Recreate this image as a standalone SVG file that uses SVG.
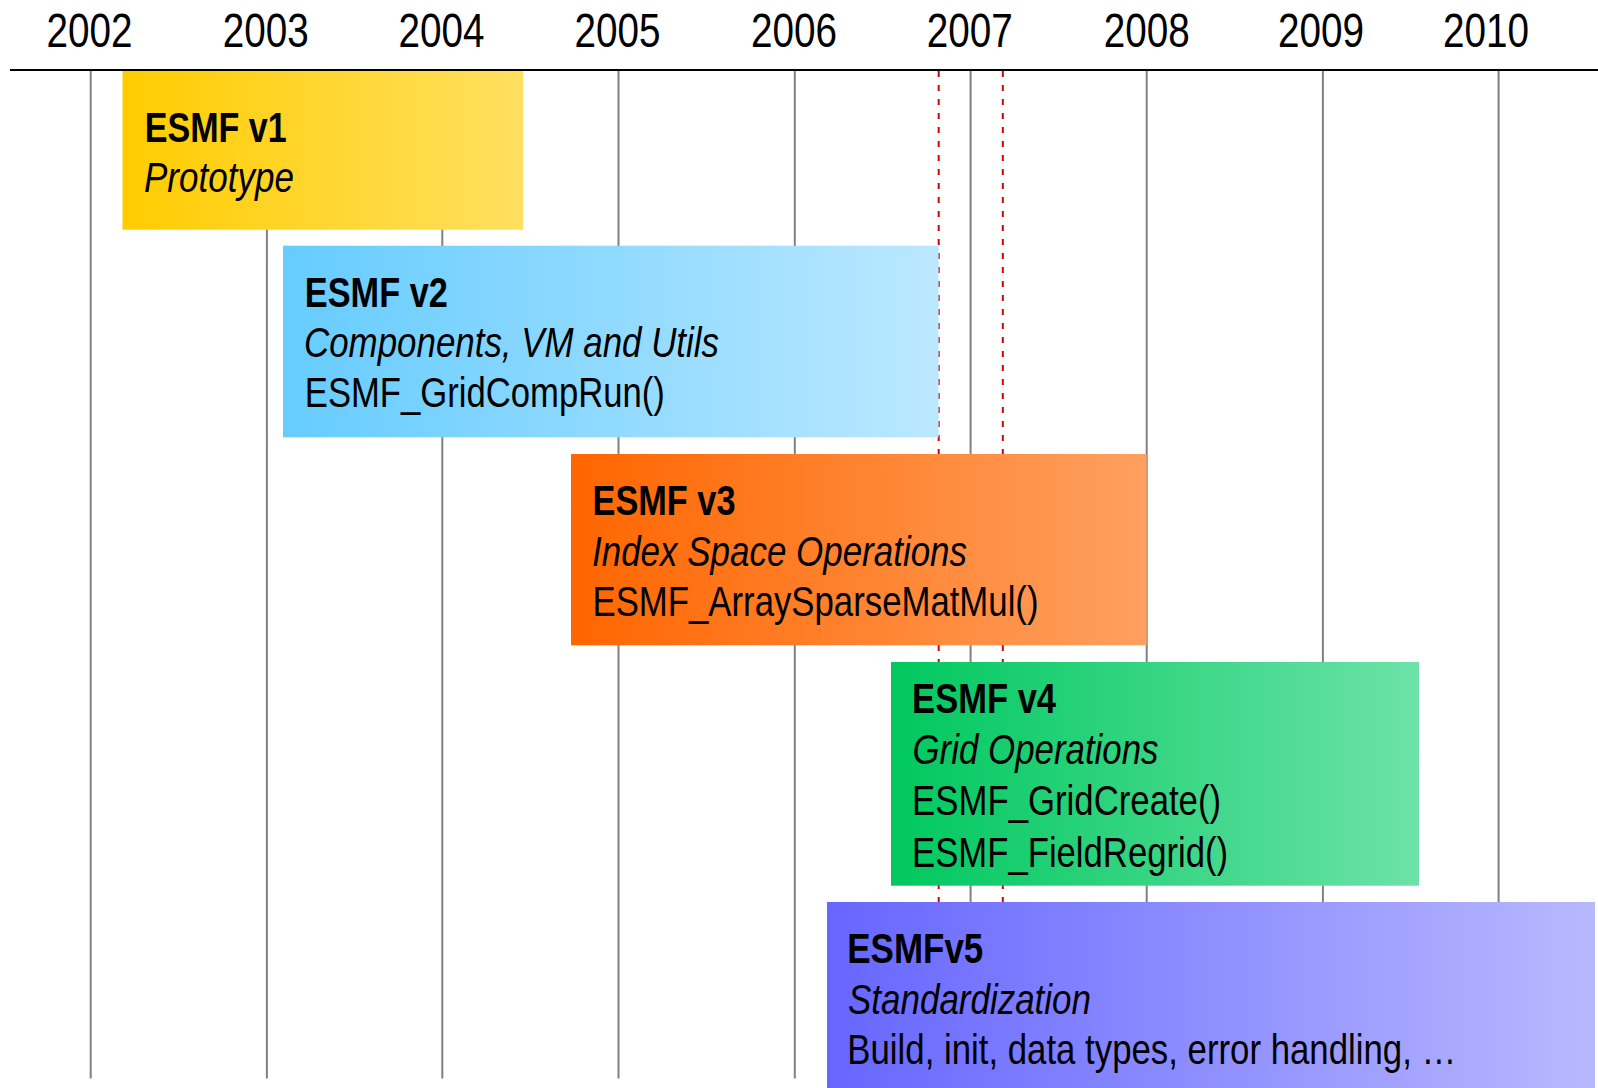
<svg xmlns="http://www.w3.org/2000/svg" width="1598" height="1088" viewBox="0 0 1598 1088">
  <defs>
    <linearGradient id="gY" x1="0" y1="0" x2="1" y2="0"><stop offset="0" stop-color="#FFCC00"/><stop offset="1" stop-color="#FFE060"/></linearGradient>
    <linearGradient id="gB" x1="0" y1="0" x2="1" y2="0"><stop offset="0" stop-color="#66CCFF"/><stop offset="1" stop-color="#BBE8FF"/></linearGradient>
    <linearGradient id="gO" x1="0" y1="0" x2="1" y2="0"><stop offset="0" stop-color="#FF6600"/><stop offset="1" stop-color="#FFA060"/></linearGradient>
    <linearGradient id="gG" x1="0" y1="0" x2="1" y2="0"><stop offset="0" stop-color="#00C85E"/><stop offset="1" stop-color="#6CE2A8"/></linearGradient>
    <linearGradient id="gP" x1="0" y1="0" x2="1" y2="0"><stop offset="0" stop-color="#6666FF"/><stop offset="1" stop-color="#B8B8FF"/></linearGradient>
  </defs>
  <style>
    text { font-family: "Liberation Sans", Arial, sans-serif; fill: #000; }
    .yr { font-size: 49px; text-anchor: middle; }
    .t { font-size: 42px; font-weight: bold; }
    .s { font-size: 42px; font-style: italic; }
    .r { font-size: 42px; }
    .grid { stroke: #808080; stroke-width: 2; }
    .red { stroke: #D40000; stroke-width: 2; stroke-dasharray: 6 8; }
  </style>
  <rect width="1598" height="1088" fill="#fff"/>
  <g id="axis">
    <g id="years">
      <text class="yr" x="89.4" y="46.5" textLength="86" lengthAdjust="spacingAndGlyphs">2002</text>
      <text class="yr" x="265.7" y="46.5" textLength="86" lengthAdjust="spacingAndGlyphs">2003</text>
      <text class="yr" x="441.5" y="46.5" textLength="86" lengthAdjust="spacingAndGlyphs">2004</text>
      <text class="yr" x="617.6" y="46.5" textLength="86" lengthAdjust="spacingAndGlyphs">2005</text>
      <text class="yr" x="793.9" y="46.5" textLength="86" lengthAdjust="spacingAndGlyphs">2006</text>
      <text class="yr" x="969.8" y="46.5" textLength="86" lengthAdjust="spacingAndGlyphs">2007</text>
      <text class="yr" x="1146.8" y="46.5" textLength="86" lengthAdjust="spacingAndGlyphs">2008</text>
      <text class="yr" x="1321" y="46.5" textLength="86" lengthAdjust="spacingAndGlyphs">2009</text>
      <text class="yr" x="1486" y="46.5" textLength="86" lengthAdjust="spacingAndGlyphs">2010</text>
    </g>
    <line x1="10" y1="70" x2="1598" y2="70" stroke="#000" stroke-width="2"/>
    <g id="gridlines">
      <line class="grid" x1="90.7" y1="71" x2="90.7" y2="1078.5"/>
      <line class="grid" x1="266.9" y1="71" x2="266.9" y2="1078.5"/>
      <line class="grid" x1="442.3" y1="71" x2="442.3" y2="1078.5"/>
      <line class="grid" x1="618.5" y1="71" x2="618.5" y2="1078.5"/>
      <line class="grid" x1="794.8" y1="71" x2="794.8" y2="1078.5"/>
      <line class="grid" x1="970.6" y1="71" x2="970.6" y2="1078.5"/>
      <line class="grid" x1="1146.7" y1="71" x2="1146.7" y2="1078.5"/>
      <line class="grid" x1="1322.9" y1="71" x2="1322.9" y2="1078.5"/>
      <line class="grid" x1="1498.6" y1="71" x2="1498.6" y2="1078.5"/>
    </g>
  </g>
  <g id="connectors">
    <line class="red" x1="938.7" y1="71" x2="938.7" y2="1078"/>
    <line class="red" x1="1002.8" y1="71" x2="1002.8" y2="1078"/>
  </g>
  <g id="v1">
    <rect x="122.5" y="71" width="400.7" height="158.7" fill="url(#gY)"/>
    <text class="t" x="144.7" y="141.7" textLength="142" lengthAdjust="spacingAndGlyphs">ESMF v1</text>
    <text class="s" x="144" y="192" textLength="150" lengthAdjust="spacingAndGlyphs">Prototype</text>
  </g>
  <g id="v2">
    <rect x="283" y="245.7" width="655.6" height="191.6" fill="url(#gB)"/>
    <text class="t" x="304.8" y="306.5" textLength="143" lengthAdjust="spacingAndGlyphs">ESMF v2</text>
    <text class="s" x="304" y="357" textLength="415" lengthAdjust="spacingAndGlyphs">Components, VM and Utils</text>
    <text class="r" x="304.8" y="407" textLength="360" lengthAdjust="spacingAndGlyphs">ESMF_GridCompRun()</text>
  </g>
  <g id="v3">
    <rect x="571" y="454" width="575.7" height="191.3" fill="url(#gO)"/>
    <text class="t" x="592.5" y="515" textLength="143" lengthAdjust="spacingAndGlyphs">ESMF v3</text>
    <text class="s" x="592" y="565.5" textLength="375" lengthAdjust="spacingAndGlyphs">Index Space Operations</text>
    <text class="r" x="592.5" y="616" textLength="446" lengthAdjust="spacingAndGlyphs">ESMF_ArraySparseMatMul()</text>
  </g>
  <g id="v4">
    <rect x="891" y="662" width="528" height="223.7" fill="url(#gG)"/>
    <text class="t" x="912.1" y="712.7" textLength="144" lengthAdjust="spacingAndGlyphs">ESMF v4</text>
    <text class="s" x="912.5" y="763.5" textLength="246" lengthAdjust="spacingAndGlyphs">Grid Operations</text>
    <text class="r" x="912.1" y="815" textLength="309" lengthAdjust="spacingAndGlyphs">ESMF_GridCreate()</text>
    <text class="r" x="912.1" y="866.5" textLength="316" lengthAdjust="spacingAndGlyphs">ESMF_FieldRegrid()</text>
  </g>
  <g id="v5">
    <rect x="827" y="902" width="768" height="190" fill="url(#gP)"/>
    <text class="t" x="847.3" y="962.7" textLength="136" lengthAdjust="spacingAndGlyphs">ESMFv5</text>
    <text class="s" x="848" y="1013.5" textLength="243" lengthAdjust="spacingAndGlyphs">Standardization</text>
    <text class="r" x="847.3" y="1064" textLength="609" lengthAdjust="spacingAndGlyphs">Build, init, data types, error handling, …</text>
  </g>
</svg>
